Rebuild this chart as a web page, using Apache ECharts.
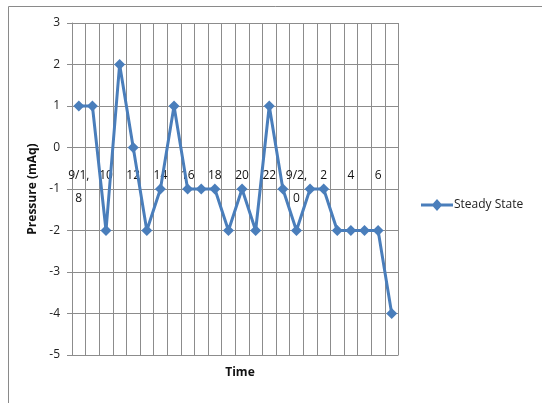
<!DOCTYPE html>
<html>
<head>
<meta charset="utf-8">
<script src="https://cdn.jsdelivr.net/npm/echarts@6/dist/echarts.min.js"></script>
<style>
  html, body { margin: 0; padding: 0; background: #fff; }
  #chart { width: 542px; height: 403px; }
</style>
</head>
<body>
<div id="chart"></div>
<script>
// Hourly readings from 9/1 08:00 through 9/2 07:00
const categories = [
  '9/1, 8', '9', '10', '11', '12', '13', '14', '15', '16', '17', '18', '19',
  '20', '21', '22', '23', '9/2, 0', '1', '2', '3', '4', '5', '6', '7'
];
const steadyState = [
  1, 1, -2, 2, 0, -2, -1, 1, -1, -1, -1, -2,
  -1, -2, 1, -1, -2, -1, -1, -2, -2, -2, -2, -4
];
const yTicks = { min: -5, max: 3, interval: 1 };

const FONT = '"Open Sans", "Liberation Sans", sans-serif';
const GRID_COLOR = '#8c8c8c';
const LINE_COLOR = '#4a7ebb';

const GRID = { left: 72, right: 143.5, top: 23, bottom: 48 };
const PLOT_H = 403 - GRID.top - GRID.bottom;
// the category axis crosses the value axis at 0
const zeroOffset = -PLOT_H * (0 - yTicks.min) / (yTicks.max - yTicks.min);

const chart = echarts.init(document.getElementById('chart'), null, { renderer: 'canvas' });

chart.setOption({
  animation: false,
  backgroundColor: '#fff',
  textStyle: { fontFamily: FONT },
  graphic: [{
    type: 'rect',
    left: 6, top: 4,
    shape: { width: 560, height: 420 },
    style: { fill: 'none', stroke: '#8a8a8a', lineWidth: 1 },
    silent: true
  }],
  grid: Object.assign({ containLabel: false, outerBoundsMode: 'none' }, GRID),
  legend: {
    left: 416, top: 194,
    itemWidth: 32, itemHeight: 12, itemGap: 4,
    icon: 'path://M0,4.5 L12,4.5 L16,0 L20,4.5 L32,4.5 L32,7.5 L20,7.5 L16,12 L12,7.5 L0,7.5 Z',
    textStyle: { fontFamily: FONT, fontSize: 12, color: '#222', padding: [0, 0, 0, -4] },
    data: ['Steady State']
  },
  xAxis: [{
    type: 'category',
    data: categories,
    boundaryGap: true,
    offset: zeroOffset,
    axisLine: { onZero: false, lineStyle: { color: GRID_COLOR, width: 1 } },
    axisTick: { show: false },
    axisLabel: {
      interval: 1,
      margin: 17,
      fontSize: 12,
      lineHeight: 23,
      color: '#111',
      fontFamily: FONT,
      formatter: (v) => v.replace(', ', ',\n')
    },
    splitLine: { show: true, interval: 0, lineStyle: { color: GRID_COLOR, width: 1 } }
  }],
  yAxis: {
    type: 'value',
    min: yTicks.min,
    max: yTicks.max,
    interval: yTicks.interval,
    name: 'Pressure (mAq)',
    nameLocation: 'middle',
    nameGap: 31,
    nameTextStyle: { fontFamily: FONT, fontSize: 12, fontWeight: 'bold', color: '#111' },
    axisLine: { show: true, lineStyle: { color: GRID_COLOR, width: 1 } },
    axisTick: { show: true, length: 5, lineStyle: { color: GRID_COLOR } },
    axisLabel: { fontSize: 12, color: '#222', margin: 12, fontFamily: FONT },
    splitLine: { show: true, lineStyle: { color: GRID_COLOR, width: 1 } }
  },
  title: {
    text: 'Time',
    left: 235, top: 362,
    textAlign: 'center',
    textStyle: { fontFamily: FONT, fontSize: 12, fontWeight: 'bold', color: '#111' }
  },
  series: [{
    name: 'Steady State',
    type: 'line',
    data: steadyState,
    symbol: 'diamond',
    symbolSize: 11,
    showAllSymbol: true,
    lineStyle: { color: LINE_COLOR, width: 3 },
    itemStyle: { color: LINE_COLOR },
    z: 5
  }]
});
</script>
</body>
</html>
